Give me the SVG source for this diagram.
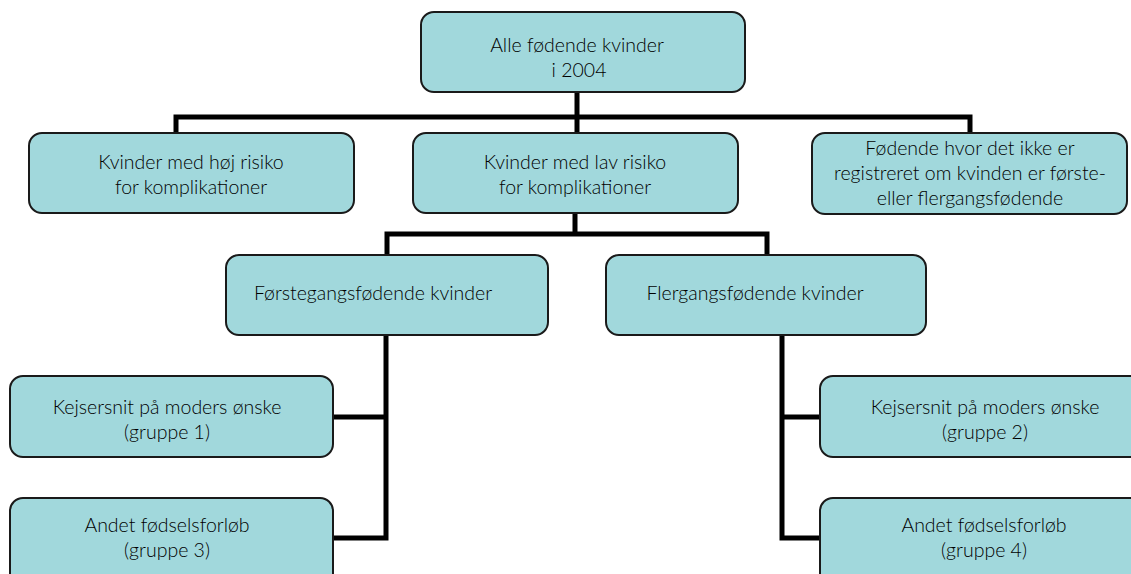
<svg xmlns="http://www.w3.org/2000/svg" width="1131" height="574" viewBox="0 0 1131 574">
<style>
.box{fill:#a1d8dc;stroke:#1a1a1a;stroke-width:2}
.t{font-family:"Lato","Open Sans",sans-serif;font-size:19.5px;font-weight:300;fill:#000;text-anchor:middle}
.c{fill:none;stroke:#000;stroke-width:5;stroke-linecap:butt;stroke-linejoin:miter}
</style>
<rect width="1131" height="574" fill="#fff"/>
<g id="connectors">
<path class="c" d="M577 92V133M176 133V117H970V133"/>
<path class="c" d="M575 213V234M387 255V234H767V255"/>
<path class="c" d="M333 417H386M386 335V538H333"/>
<path class="c" d="M820 417H782M782 335V538H820"/>
</g>
<g id="n_all"><rect class="box" x="421" y="12" width="324" height="80" rx="13"/><text class="t" x="577" y="52">Alle fødende kvinder</text><text class="t" x="579" y="77">i 2004</text></g>
<g id="n_hoj"><rect class="box" x="29" y="133" width="325" height="80" rx="13"/><text class="t" x="191" y="169">Kvinder med høj risiko</text><text class="t" x="191" y="194">for komplikationer</text></g>
<g id="n_lav"><rect class="box" x="413" y="133" width="325" height="80" rx="13"/><text class="t" x="575" y="169">Kvinder med lav risiko</text><text class="t" x="575" y="194">for komplikationer</text></g>
<g id="n_ukendt"><rect class="box" x="812" y="133" width="315" height="81" rx="13"/><text class="t" x="970" y="155">Fødende hvor det ikke er</text><text class="t" x="970" y="180">registreret om kvinden er første-</text><text class="t" x="970" y="205">eller flergangsfødende</text></g>
<g id="n_forste"><rect class="box" x="226" y="255" width="322" height="80" rx="13"/><text class="t" x="373" y="300">Førstegangsfødende kvinder</text></g>
<g id="n_fler"><rect class="box" x="606" y="255" width="320" height="80" rx="13"/><text class="t" x="755" y="300">Flergangsfødende kvinder</text></g>
<g id="n_g1"><rect class="box" x="10" y="376" width="323" height="81" rx="13"/><text class="t" x="167" y="414">Kejsersnit på moders ønske</text><text class="t" x="167" y="439">(gruppe 1)</text></g>
<g id="n_g3"><rect class="box" x="10" y="498" width="323" height="90" rx="13"/><text class="t" x="167" y="532">Andet fødselsforløb</text><text class="t" x="167" y="557">(gruppe 3)</text></g>
<g id="n_g2"><rect class="box" x="820" y="376" width="325" height="81" rx="13"/><text class="t" x="985" y="414">Kejsersnit på moders ønske</text><text class="t" x="985" y="439">(gruppe 2)</text></g>
<g id="n_g4"><rect class="box" x="820" y="498" width="325" height="90" rx="13"/><text class="t" x="984" y="532">Andet fødselsforløb</text><text class="t" x="984" y="557">(gruppe 4)</text></g>
</svg>
